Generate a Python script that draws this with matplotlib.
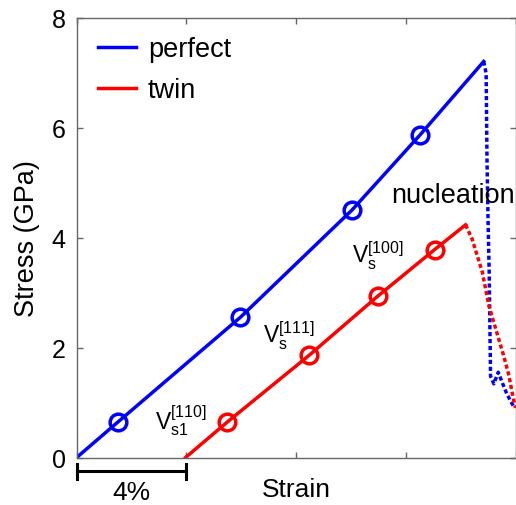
import matplotlib
matplotlib.use('Agg')
import matplotlib.pyplot as plt

plt.rcParams['font.family'] = ['Liberation Sans', 'DejaVu Sans']
plt.rcParams['mathtext.fontset'] = 'custom'
plt.rcParams['mathtext.rm'] = 'Liberation Sans'

# strain in %, stress in GPa
perfect_strain = [0, 1.49, 5.97, 10.04, 12.51, 14.84]
perfect_stress = [0, 0.64, 2.55, 4.50, 5.86, 7.20]
perfect_drop_strain = [14.84, 14.93, 14.96, 15.0, 15.04, 15.09, 15.21, 15.37, 15.51, 15.69, 15.94]
perfect_drop_stress = [7.20, 6.98, 5.43, 4.30, 3.37, 1.48, 1.34, 1.55, 1.37, 1.15, 0.92]
perfect_mark_strain = [1.49, 5.97, 10.04, 12.51]
perfect_mark_stress = [0.64, 2.55, 4.50, 5.86]

twin_strain = [3.97, 5.48, 8.48, 10.97, 13.05, 14.18]
twin_stress = [0, 0.64, 1.86, 2.93, 3.78, 4.23]
twin_drop_strain = [14.18, 14.42, 14.79, 15.03, 15.39, 15.57, 15.76, 15.9, 16.0]
twin_drop_stress = [4.23, 3.97, 3.37, 2.76, 2.15, 1.85, 1.49, 1.12, 0.90]
twin_mark_strain = [5.48, 8.48, 10.97, 13.05]
twin_mark_stress = [0.64, 1.86, 2.93, 3.78]

labels = [r'$\mathregular{V_{s1}^{[110]}}$', r'$\mathregular{V_{s}^{[111]}}$',
          r'$\mathregular{V_{s}^{[100]}}$']
label_x = [2.85, 6.78, 10.04]
label_y = [0.52, 2.09, 3.54]

scale_len = 4  # % strain for the scale bar


def plot_stress_strain():
    fig = plt.figure(figsize=(5.16, 5.06), dpi=100)
    ax = fig.add_axes([76.7 / 516, 47.5 / 506, 438.8 / 516, 440 / 506])

    line_args = {'lw': 2.5}
    mark_args = {'ls': 'none', 'marker': 'o', 'ms': 12, 'mfc': 'none', 'mew': 2.5}
    dot_args = {'lw': 2.5, 'dashes': (1.2, 0.8)}

    ax.plot(perfect_strain, perfect_stress, color='blue', label='perfect', **line_args)
    ax.plot(twin_strain, twin_stress, color='red', label='twin', **line_args)
    ax.plot(perfect_drop_strain, perfect_drop_stress, color='blue', **dot_args)
    ax.plot(twin_drop_strain, twin_drop_stress, color='red', **dot_args)
    ax.plot(perfect_mark_strain, perfect_mark_stress, mec='blue', **mark_args)
    ax.plot(twin_mark_strain, twin_mark_stress, mec='red', **mark_args)

    for s, x, y in zip(labels, label_x, label_y):
        ax.text(x, y, s, fontsize=16.5, va='baseline')
    ax.text(11.45, 4.65, 'nucleation', fontsize=19.5, va='baseline', clip_on=False)

    # scale bar under the axis
    ax.plot([0, scale_len], [-0.245, -0.245], color='k', lw=2.2, clip_on=False)
    for x in [0, scale_len]:
        ax.plot([x, x], [-0.12, -0.39], color='k', lw=2.2, clip_on=False)
    ax.text(scale_len / 2, -0.62, '4%', fontsize=19, ha='center', va='center')

    ax.set_xlim(0, 16)
    ax.set_ylim(0, 8)
    ax.set_xticks([0, 4, 8, 12, 16])
    ax.set_xticklabels([])
    ax.set_yticks([0, 2, 4, 6, 8])
    ax.tick_params(direction='in', top=True, right=True, length=4, width=1,
                   color='0.4', labelsize=18, pad=8)
    for sp in ax.spines.values():
        sp.set_color('0.4')
        sp.set_linewidth(1)

    ax.set_xlabel('Strain', fontsize=19)
    ax.xaxis.set_label_coords(0.5, -0.044)
    ax.set_ylabel('Stress (GPa)', fontsize=19.5, labelpad=8)

    ax.legend(loc='upper left', bbox_to_anchor=(0.0485, 0.958), frameon=False,
              fontsize=19.5, borderpad=0, borderaxespad=0, handlelength=1.4,
              handletextpad=0.45, labelspacing=0.57)
    return fig


if '__main__' == __name__:
    fig = plot_stress_strain()
    fig.savefig('out.png', dpi=100)
